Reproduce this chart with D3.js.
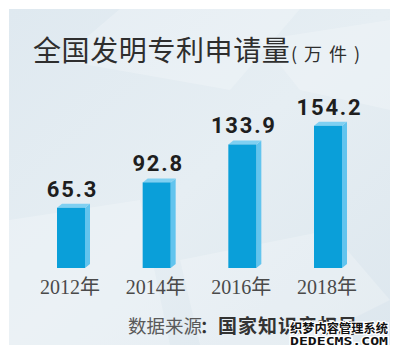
<!DOCTYPE html>
<html><head><meta charset="utf-8">
<script src="https://cdn.jsdelivr.net/npm/d3@7"></script>
<style>html,body{margin:0;padding:0;background:#fff;}svg{display:block;}</style>
</head><body>
<script>
const years = ["2012年", "2014年", "2016年", "2018年"];
const values = [65.3, 92.8, 133.9, 154.2];
const valueLabels = ["65.3", "92.8", "133.9", "154.2"];
const title = "全国发明专利申请量";
const unit = "(万件)";
const sourceLead = "数据来源";
const sourceOrg = "国家知识产权局";

const W = 400, H = 355;
const svg = d3.select("body").append("svg").attr("width", W).attr("height", H);

// panel background
const defs = svg.append("defs");
const grad = defs.append("linearGradient").attr("id", "bg").attr("x1", 0).attr("y1", 0).attr("x2", 1).attr("y2", 1);
grad.append("stop").attr("offset", "0").attr("stop-color", "#dfe9f0");
grad.append("stop").attr("offset", "0.5").attr("stop-color", "#e6eef3");
grad.append("stop").attr("offset", "1").attr("stop-color", "#dde7ee");
svg.append("rect").attr("x", 9).attr("y", 9).attr("width", 381).attr("height", 336).attr("fill", "url(#bg)");

// subtle geometric shading
const shades = [
  [[120,9],[300,9],[230,90],[60,60]],
  [[9,220],[140,200],[170,345],[9,345]],
  [[180,260],[330,230],[390,300],[300,345],[200,345]],
  [[260,40],[390,20],[390,110],[300,90]]
];
svg.append("g").selectAll("polygon").data(shades).join("polygon")
  .attr("points", d => d.map(p => p.join(",")).join(" "))
  .attr("fill", "#ffffff").attr("opacity", 0.22);

// scales
const x = d3.scalePoint().domain(years).range([71, 328]);
const y = d3.scaleLinear().domain([0, 160]).range([268, 120.4]);
const bw = 28, dx = 5, dy = -4;

const g = svg.append("g");
const bars = g.selectAll("g.bar").data(years.map((k, i) => ({k, v: values[i], lab: valueLabels[i]}))).join("g").attr("class", "bar");

// side face
bars.append("polygon")
  .attr("points", d => {
    const c = x(d.k), t = y(d.v), b = y(0);
    return [[c + bw/2, t], [c + bw/2 + dx, t + dy], [c + bw/2 + dx, b + dy], [c + bw/2, b]].map(p => p.join(",")).join(" ");
  })
  .attr("fill", "#62c4ee");
// top face
bars.append("polygon")
  .attr("points", d => {
    const c = x(d.k), t = y(d.v);
    return [[c - bw/2, t], [c - bw/2 + dx, t + dy], [c + bw/2 + dx, t + dy], [c + bw/2, t]].map(p => p.join(",")).join(" ");
  })
  .attr("fill", "#7fd0f2");
// front face
bars.append("rect")
  .attr("x", d => x(d.k) - bw/2).attr("y", d => y(d.v))
  .attr("width", bw).attr("height", d => y(0) - y(d.v))
  .attr("fill", "#0a9fd9");

// value labels
bars.append("text")
  .attr("x", d => x(d.k) + 1.5).attr("y", d => y(d.v) - 11)
  .attr("text-anchor", "middle")
  .attr("font-family", "Roboto, 'Liberation Sans', sans-serif")
  .attr("font-weight", "bold").attr("font-size", 22).attr("letter-spacing", 1.8)
  .attr("fill", "#1e1e1e")
  .text(d => d.lab);

// year labels
svg.append("g").selectAll("text").data(years).join("text")
  .attr("x", d => x(d) - 1).attr("y", 294)
  .attr("text-anchor", "middle")
  .attr("font-family", "'Liberation Serif', 'Noto Sans CJK SC', serif")
  .attr("font-size", 20).attr("fill", "#4a4a4a")
  .text(d => d);

// title
const tt = svg.append("text").attr("x", 33).attr("y", 61)
  .attr("font-family", "'Noto Sans CJK SC', sans-serif").attr("fill", "#2e2e2e");
tt.append("tspan").attr("font-size", 28).attr("letter-spacing", 0.6).text(title);
tt.append("tspan").attr("x", 291).attr("font-size", 18).attr("letter-spacing", 7).text(unit);

// source
const st = svg.append("text").attr("y", 333).attr("font-family", "'Noto Sans CJK SC', sans-serif");
st.append("tspan").attr("x", 128).attr("font-size", 18.5).attr("fill", "#5a5a5a").text(sourceLead);
st.append("tspan").attr("x", 200).attr("font-size", 17).attr("font-weight", "bold").attr("fill", "#333").text("：");
st.append("tspan").attr("x", 218).attr("font-size", 19).attr("font-weight", "bold").attr("letter-spacing", 1).attr("fill", "#333").text(sourceOrg);

// watermark
const wm = svg.append("g").attr("font-weight", "bold");
wm.append("text").attr("x", 290).attr("y", 333).attr("font-size", 12.5)
  .attr("font-family", "'Noto Sans CJK SC', sans-serif")
  .attr("textLength", 98).attr("lengthAdjust", "spacingAndGlyphs")
  .attr("fill", "#111").attr("stroke", "#fff").attr("stroke-width", 2.5).attr("paint-order", "stroke")
  .text("织梦内容管理系统");
wm.append("text").attr("x", 290).attr("y", 345).attr("font-size", 11)
  .attr("font-family", "'DejaVu Sans Mono', monospace")
  .attr("textLength", 98).attr("lengthAdjust", "spacingAndGlyphs")
  .attr("fill", "#111").attr("stroke", "#fff").attr("stroke-width", 2.5).attr("paint-order", "stroke")
  .text("DEDECMS.COM");
</script>
</body></html>
